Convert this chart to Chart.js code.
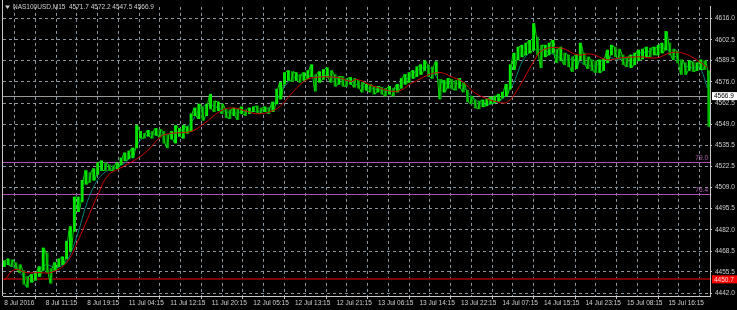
<!DOCTYPE html>
<html><head><meta charset="utf-8">
<script src="https://cdn.jsdelivr.net/npm/chart.js@4/dist/chart.umd.min.js"></script>
<style>html,body{margin:0;padding:0;background:#000;}#wrap{width:737px;height:310px;position:relative;}</style>
</head><body><div id="wrap"><canvas id="c" width="737" height="310"></canvas></div>
<script>
const symbolTitle = "NAS100USD,M15";
const ohlcText = "4571.7 4572.2 4547.5 4566.9";
const timeLabels = ["8 Jul 2016","8 Jul 11:15","8 Jul 19:15","11 Jul 04:15","11 Jul 12:15","11 Jul 20:15","12 Jul 05:15","12 Jul 13:15","12 Jul 21:15","13 Jul 06:15","13 Jul 14:15","13 Jul 22:15","14 Jul 07:15","14 Jul 15:15","14 Jul 23:15","15 Jul 08:15","15 Jul 16:15"];
const barsPerLabel = 32;
const barsPerGrid = 16;
const priceTicks = [4442.0,4455.5,4468.5,4482.0,4495.5,4509.0,4522.5,4535.5,4549.0,4562.5,4576.0,4589.5,4602.5,4616.0];
const sampleStep = 3; // bars per sample
const highs = [4462.5,4463.7,4463.1,4461.3,4460.0,4456.3,4452.5,4453.8,4455.0,4458.8,
4470.6,4467.5,4457.5,4461.3,4463.7,4465.0,4474.9,4484.2,4502.9,4502.9,
4513.5,4519.7,4518.4,4520.9,4524.6,4525.9,4524.6,4523.4,4522.8,4524.6,
4527.7,4530.9,4532.1,4534.0,4548.3,4544.5,4543.3,4545.2,4544.5,4546.4,
4545.8,4544.5,4542.0,4544.5,4548.3,4546.4,4548.3,4547.6,4555.7,4559.4,
4561.9,4560.1,4561.9,4568.1,4563.8,4563.2,4561.9,4558.8,4558.2,4559.4,
4558.8,4560.1,4558.2,4559.4,4560.1,4560.7,4559.4,4560.1,4559.4,4563.2,
4571.3,4575.6,4581.8,4583.1,4582.4,4581.8,4580.6,4581.8,4583.1,4586.8,
4580.6,4582.4,4583.7,4584.9,4583.1,4580.6,4579.3,4579.3,4578.1,4578.7,
4578.1,4576.8,4575.6,4574.4,4574.4,4573.1,4573.1,4572.5,4571.9,4573.1,
4571.9,4574.4,4578.1,4580.6,4581.8,4583.1,4585.5,4586.8,4589.3,4586.8,
4585.5,4588.7,4577.5,4576.8,4578.1,4577.5,4576.8,4578.1,4575.6,4570.6,
4566.9,4564.4,4563.8,4564.4,4565.0,4566.3,4566.9,4568.1,4569.4,4574.4,
4586.8,4594.2,4598.0,4599.2,4600.5,4602.3,4612.9,4604.2,4599.2,4599.2,
4600.5,4602.3,4596.7,4598.0,4594.2,4593.0,4591.8,4593.0,4600.5,4594.2,
4591.8,4589.9,4589.3,4589.9,4590.5,4596.1,4599.2,4598.0,4596.7,4593.0,
4591.8,4593.0,4594.2,4596.1,4596.7,4598.0,4597.4,4598.0,4599.2,4600.5,
4607.9,4600.5,4596.7,4595.5,4589.9,4588.0,4589.3,4588.7,4588.0,4589.9,
4589.3,4583.0];
const lows = [4458.8,4460.0,4458.8,4457.5,4455.0,4447.6,4445.7,4448.8,4450.1,4452.5,
4456.3,4455.0,4448.2,4456.3,4458.8,4460.0,4463.7,4468.7,4481.1,4493.6,
4499.8,4511.0,4512.2,4513.5,4517.2,4519.7,4519.7,4519.7,4519.7,4520.9,
4523.4,4525.9,4527.1,4527.7,4534.0,4540.2,4540.2,4541.4,4540.2,4542.0,
4540.8,4537.1,4534.0,4539.6,4537.1,4541.4,4540.2,4543.3,4544.5,4554.5,
4552.6,4551.4,4554.5,4558.8,4557.0,4557.6,4555.7,4553.2,4552.6,4554.5,
4552.0,4555.7,4554.5,4555.7,4557.0,4556.3,4555.7,4557.0,4555.7,4557.0,
4561.9,4565.0,4574.4,4576.8,4576.2,4576.8,4575.6,4576.8,4578.1,4579.3,
4570.0,4575.6,4577.5,4578.7,4575.6,4573.1,4574.4,4573.1,4573.1,4574.4,
4572.5,4571.9,4569.4,4570.6,4569.4,4568.1,4569.4,4568.1,4566.9,4568.1,
4566.9,4569.4,4571.9,4574.4,4575.6,4578.1,4579.3,4580.6,4583.1,4579.3,
4578.1,4580.6,4565.0,4569.4,4571.9,4571.3,4570.6,4571.9,4569.4,4563.2,
4561.9,4559.4,4558.8,4560.1,4560.7,4561.9,4562.6,4563.8,4565.7,4566.9,
4571.3,4583.7,4589.9,4591.8,4593.0,4594.2,4596.1,4593.0,4584.9,4591.8,
4593.0,4594.2,4588.0,4589.3,4586.8,4585.5,4582.4,4584.3,4589.9,4586.8,
4584.3,4583.1,4581.8,4581.8,4583.1,4588.0,4593.0,4591.8,4590.5,4586.8,
4585.5,4584.9,4586.8,4589.3,4590.5,4591.8,4591.8,4593.0,4593.0,4594.2,
4596.1,4593.0,4589.9,4588.0,4580.6,4580.6,4583.1,4582.4,4583.1,4583.7,
4583.7,4547.5];
const maSlowBar = [0,8,17,28,36,48,59,72,80,90,101,111,121,129,144,154,167,176,188,195,205,213,221,231,239,257,267,272,285,303,315,334,346,354,362,369,380,388,397,408,415,429,442,452,465,475,490,503,513,523,536,542];
const maSlow = [4450.1,4456.9,4455.0,4455.0,4455.0,4461.3,4479.3,4504.1,4516.6,4521.5,4526.5,4532.7,4541.4,4543.3,4544.5,4549.5,4557.6,4559.4,4557.0,4555.7,4557.0,4560.7,4568.1,4576.2,4578.7,4578.7,4576.2,4577.5,4573.1,4570.0,4575.6,4581.8,4578.7,4575.6,4569.4,4566.3,4563.2,4563.2,4573.0,4588.7,4596.1,4597.4,4593.0,4593.6,4589.9,4591.1,4591.8,4591.1,4594.2,4594.2,4588.7,4584.9];
const maFastBar = [0,8,16,24,32,40,48,56,64,72,80,88,96,104,112,120,128,136,144,152,160,168,176,184,192,200,208,216,224,232,240,248,256,264,272,280,288,296,304,312,320,328,336,344,352,360,368,376,384,392,400,408,416,424,432,440,448,456,464,472,480,488,496,504,512,520,528,536,542];
const maFast = [4461,4458,4452,4455,4460,4458,4462,4478,4500,4514,4520,4522,4527,4538,4543,4542,4543,4545,4550,4560,4561,4558,4556,4557,4557,4558,4562,4573,4579,4580,4579,4580,4578,4577,4574,4572,4571,4570,4573,4579,4584,4585,4576,4575,4574,4567,4562,4562,4565,4574,4590,4596,4596,4593,4590,4590,4587,4586,4592,4590,4591,4594,4595,4598,4596,4590,4585,4585,4572];
const currentPrice = 4566.9;
const fibLevels = [4525.0, 4504.6];
const fibLabels = ["79.0", "76.4"];
const supportLevel = 4450.7;

const FONT = "'Liberation Sans', Arial, 'DejaVu Sans', sans-serif";
const barData = highs.map((h, i) => ({x: i * sampleStep, y: [lows[i], h]}));
const barColors = highs.map((h, i) => {
  const mid = (h + lows[i]) / 2;
  const prev = i > 0 ? (highs[i-1] + lows[i-1]) / 2 : mid;
  return mid >= prev ? '#00f000' : '#00a000';
});
// zigzag path through the same highs/lows (bar-chart texture)
const zigData = [];
highs.forEach((h, i) => {
  const up = i % 2 === 0;
  zigData.push({x: i * sampleStep - 0.8, y: up ? lows[i] : h});
  zigData.push({x: i * sampleStep + 0.8, y: up ? h : lows[i]});
});
const slowData = maSlowBar.map((b, i) => ({x: b, y: maSlow[i]}));
const fastData = maFastBar.map((b, i) => ({x: b, y: maFast[i]}));
const gridTicks = [];
for (let b = 0; b <= 528; b += barsPerGrid) gridTicks.push(b);

const overlay = {
  id: 'overlay',
  beforeDraw(chart) {
    const c = chart.ctx;
    c.save(); c.fillStyle = '#000'; c.fillRect(0, 0, chart.width, chart.height); c.restore();
  },
  beforeDatasetsDraw(chart) {
    const c = chart.ctx, a = chart.chartArea, y = chart.scales.y;
    c.save();
    const hl = (v, col, w) => { const py = Math.round(y.getPixelForValue(v)) + (w % 2 ? 0.5 : 0); c.strokeStyle = col; c.lineWidth = w; c.beginPath(); c.moveTo(a.left, py); c.lineTo(a.right, py); c.stroke(); };
    hl(currentPrice, '#9a9a9a', 1);
    fibLevels.forEach(v => hl(v, '#b050b0', 1));
    hl(supportLevel, '#7a0000', 2);
    c.restore();
  },
  afterDraw(chart) {
    const c = chart.ctx, a = chart.chartArea, y = chart.scales.y;
    c.save();
    c.strokeStyle = '#c8c8c8'; c.lineWidth = 1;
    c.beginPath(); c.moveTo(2.5, 0); c.lineTo(2.5, a.bottom); c.stroke();
    c.font = '6.5px ' + FONT; c.fillStyle = '#b060b0'; c.textAlign = 'right'; c.textBaseline = 'bottom';
    fibLevels.forEach((v, i) => c.fillText(fibLabels[i], a.right - 2, y.getPixelForValue(v) - 1));
    const box = (v, bg, fg) => {
      const py = y.getPixelForValue(v);
      c.fillStyle = bg; c.fillRect(a.right + 2, py - 4, 737 - a.right - 2, 8);
      c.fillStyle = fg; c.textAlign = 'left'; c.textBaseline = 'middle';
      c.fillText(v.toFixed(1), a.right + 4, py + 0.5);
    };
    box(currentPrice, '#ffffff', '#000000');
    box(supportLevel, '#ff0000', '#ffd8d8');
    c.fillStyle = '#d0d0d0';
    c.beginPath(); c.moveTo(5, 5.5); c.lineTo(10, 5.5); c.lineTo(7.5, 9); c.closePath(); c.fill();
    c.font = '6.5px ' + FONT; c.textAlign = 'left'; c.textBaseline = 'middle'; c.fillStyle = '#d0d0d0';
    c.fillText(symbolTitle + '  ' + ohlcText, 13, 7.5);
    c.restore();
  }
};

new Chart(document.getElementById('c'), {
  type: 'bar',
  data: {
    datasets: [
      {type: 'line', data: slowData, borderColor: '#d00000', borderWidth: 1, pointRadius: 0, tension: 0.4, order: 0},
      {type: 'line', data: zigData, borderColor: '#00d800', borderWidth: 1, pointRadius: 0, tension: 0, order: 1},
      {type: 'bar', data: barData, backgroundColor: barColors, borderWidth: 0, barThickness: 2.2, grouped: false, order: 2},
      {type: 'line', data: fastData, borderColor: '#00807a', borderWidth: 1, pointRadius: 0, tension: 0.3, order: 3}
    ]
  },
  options: {
    responsive: false, animation: false, devicePixelRatio: 1,
    layout: {padding: {left: 3, top: 1, right: 0, bottom: 0}},
    plugins: {legend: {display: false}, tooltip: {enabled: false}},
    scales: {
      x: {
        type: 'linear', min: -1, max: 544, offset: false,
        afterBuildTicks(s) { s.ticks = gridTicks.map(v => ({value: v})); },
        afterFit(s) { s.height = 14; },
        grid: {color: '#8c96a0', lineWidth: 1, drawTicks: true, tickLength: 3,
               tickColor: ctx => (ctx.tick && ctx.tick.value % barsPerLabel === 0) ? '#c8c8c8' : 'rgba(0,0,0,0)', tickBorderDash: []},
        border: {display: true, color: '#c8c8c8', width: 1, dash: [3, 3]},
        ticks: {autoSkip: false, maxRotation: 0, minRotation: 0, align: 'start', padding: 0, color: '#d0d0d0',
                font: {family: FONT, size: 6.5},
                callback: v => v % barsPerLabel === 0 ? timeLabels[v / barsPerLabel] : ''}
      },
      y: {
        position: 'right', min: 4440.14, max: 4623.46,
        afterBuildTicks(s) { s.ticks = priceTicks.map(v => ({value: v})); },
        afterFit(s) { s.width = 27; },
        grid: {color: '#8c96a0', lineWidth: 1, drawTicks: true, tickLength: 2, tickColor: '#c8c8c8', tickBorderDash: []},
        border: {display: true, color: '#c8c8c8', width: 1, dash: [3, 3]},
        ticks: {padding: 3, color: '#d0d0d0', font: {family: FONT, size: 6.5}, callback: v => Number(v).toFixed(1)}
      }
    }
  },
  plugins: [overlay]
});
</script></body></html>
